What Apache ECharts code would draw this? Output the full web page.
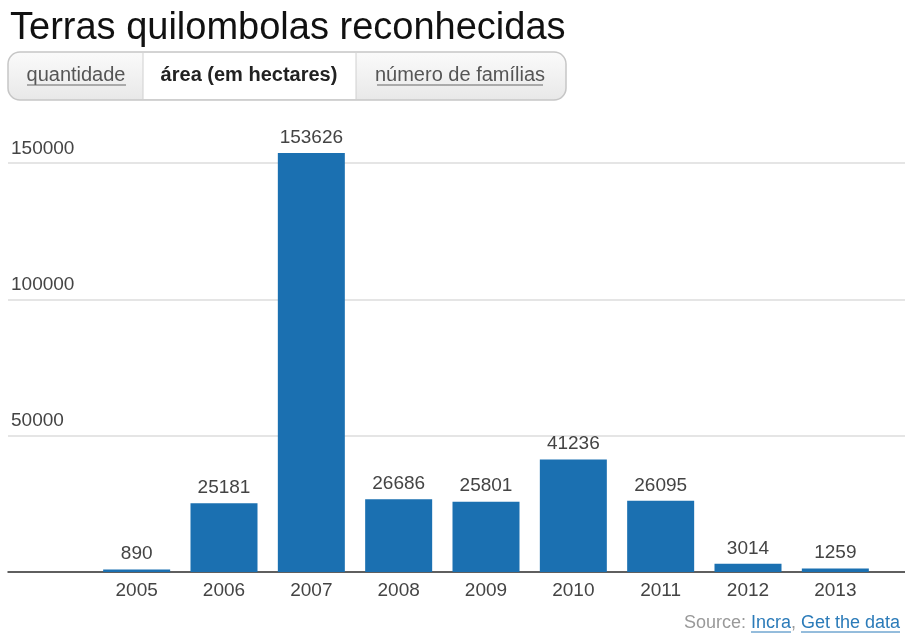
<!DOCTYPE html>
<html><head><meta charset="utf-8">
<script src="https://cdn.jsdelivr.net/npm/echarts@6/dist/echarts.min.js"></script>
<style>html,body{margin:0;padding:0;background:#fff}#c{width:905px;height:633px}</style>
</head><body><div id="c"></div>
<script>
const years = ['2005','2006','2007','2008','2009','2010','2011','2012','2013'];
const areaHectares = [890, 25181, 153626, 26686, 25801, 41236, 26095, 3014, 1259];
const yMax = 150000;
const yStep = 50000;
const titleText = 'Terras quilombolas reconhecidas';
const tabs = ['quantidade', 'área (em hectares)', 'número de famílias'];

const FONT = '"Liberation Sans", Arial, sans-serif';
const chart = echarts.init(document.getElementById('c'), null, {renderer: 'canvas'});

const option = {
  animation: false,
  backgroundColor: '#fff',
  grid: [
    {left: 93, right: 26, top: 163, bottom: 61},
    {left: 8, right: 0, top: 163, bottom: 61}
  ],
  xAxis: [
    {type: 'category', gridIndex: 0, data: years,
     axisLine: {show: false}, axisTick: {show: false},
     axisLabel: {fontSize: 19, color: '#444', margin: 9, fontFamily: FONT}},
    {type: 'value', gridIndex: 1, min: 0, max: 1, position: 'bottom',
     axisLine: {show: true, lineStyle: {color: '#333', width: 1.5}},
     axisLabel: {show: false}, axisTick: {show: false}, splitLine: {show: false}}
  ],
  yAxis: [
    {type: 'value', gridIndex: 0, min: 0, max: yMax, interval: yStep, show: false, splitLine: {show: false}},
    {type: 'value', gridIndex: 1, min: 0, max: yMax, interval: yStep,
     axisLine: {show: false}, axisTick: {show: false},
     splitLine: {show: true, lineStyle: {color: '#dcdcdc', width: 1.5}},
     axisLabel: {inside: true, margin: 3, align: 'left', verticalAlign: 'bottom',
       padding: [0, 0, 5, 0], fontSize: 19, color: '#444', fontFamily: FONT,
       formatter: v => v === 0 ? '' : String(v)}}
  ],
  series: [{
    type: 'bar', xAxisIndex: 0, yAxisIndex: 0, data: areaHectares,
    barWidth: 67, clip: false, z: 1,
    itemStyle: {color: '#1b70b1'},
    label: {show: true, position: 'top', distance: 6, fontSize: 19, color: '#444', fontFamily: FONT}
  }],
  graphic: [
    {type: 'text', left: 10, top: 10, style: {text: titleText, font: '38px ' + FONT, fill: '#111'}},
    {type: 'rect', shape: {x: 8, y: 52, width: 558, height: 48, r: 12},
     style: {fill: {type: 'linear', x: 0, y: 0, x2: 0, y2: 1,
       colorStops: [{offset: 0, color: '#fbfbfb'}, {offset: 1, color: '#e8e8e8'}]},
       stroke: '#c6c6c6', lineWidth: 1.5}},
    {type: 'rect', shape: {x: 143, y: 53, width: 213, height: 46}, style: {fill: '#fff'}},
    {type: 'line', shape: {x1: 143, y1: 53, x2: 143, y2: 99}, style: {stroke: '#d0d0d0', lineWidth: 1}},
    {type: 'line', shape: {x1: 356, y1: 53, x2: 356, y2: 99}, style: {stroke: '#d0d0d0', lineWidth: 1}},
    {type: 'text', x: 76, y: 75, style: {text: tabs[0], font: '20px ' + FONT, fill: '#555', align: 'center', verticalAlign: 'middle'}},
    {type: 'line', shape: {x1: 27, y1: 85, x2: 126, y2: 85}, style: {stroke: '#666', lineWidth: 1}},
    {type: 'text', x: 249, y: 75, style: {text: tabs[1], font: 'bold 20px ' + FONT, fill: '#222', align: 'center', verticalAlign: 'middle'}},
    {type: 'text', x: 460, y: 75, style: {text: tabs[2], font: '20px ' + FONT, fill: '#555', align: 'center', verticalAlign: 'middle'}},
    {type: 'line', shape: {x1: 377, y1: 85, x2: 543, y2: 85}, style: {stroke: '#666', lineWidth: 1}},
    {type: 'text', x: 900, y: 623, style: {text: 'Get the data', font: '18px ' + FONT, fill: '#2b7bb9', align: 'right', verticalAlign: 'middle'}},
    {type: 'line', shape: {x1: 801, y1: 632, x2: 900, y2: 632}, style: {stroke: '#2b7bb9', lineWidth: 1}},
    {type: 'text', x: 801, y: 623, style: {text: ', ', font: '18px ' + FONT, fill: '#999', align: 'right', verticalAlign: 'middle'}},
    {type: 'text', x: 791, y: 623, style: {text: 'Incra', font: '18px ' + FONT, fill: '#2b7bb9', align: 'right', verticalAlign: 'middle'}},
    {type: 'line', shape: {x1: 751, y1: 632, x2: 791, y2: 632}, style: {stroke: '#2b7bb9', lineWidth: 1}},
    {type: 'text', x: 751, y: 623, style: {text: 'Source: ', font: '18px ' + FONT, fill: '#999', align: 'right', verticalAlign: 'middle'}}
  ]
};
chart.setOption(option);
</script>
</body></html>
